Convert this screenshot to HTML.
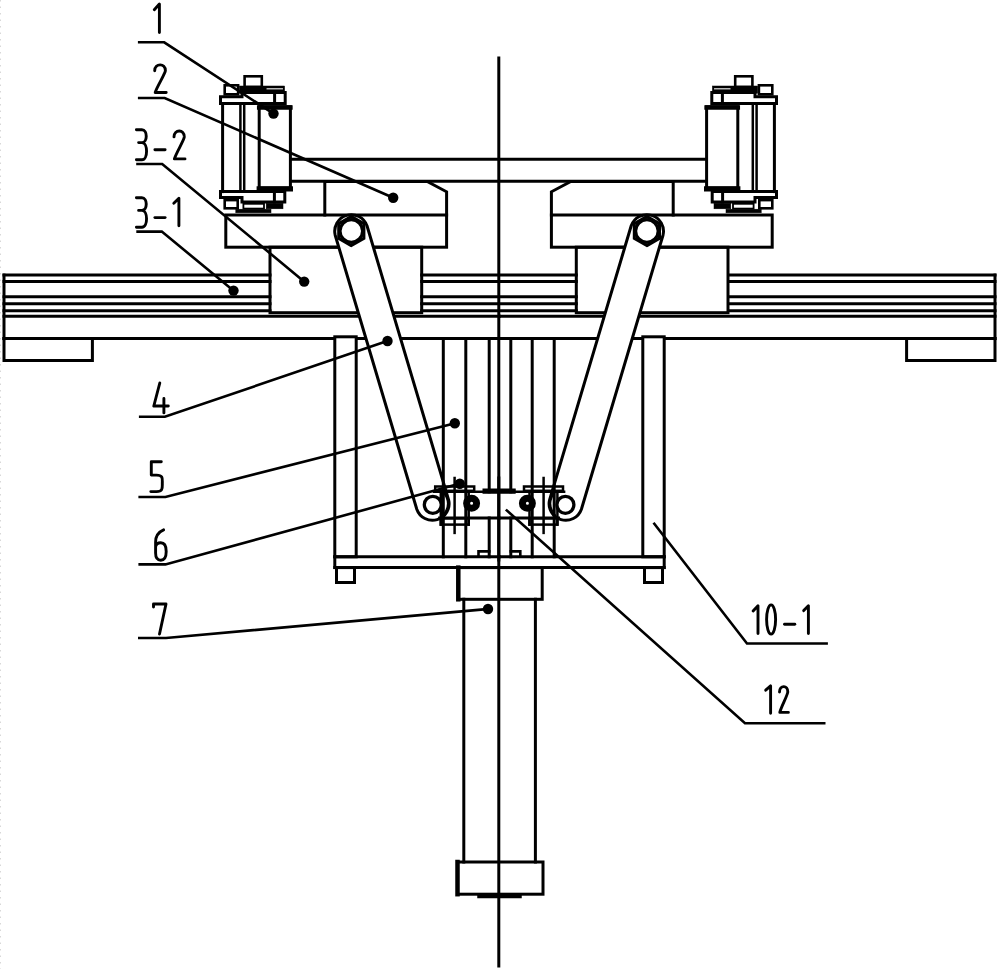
<!DOCTYPE html><html><head><meta charset="utf-8"><style>html,body{margin:0;padding:0;background:#fff;}svg{display:block;}</style></head><body><svg width="1000" height="969" viewBox="0 0 1000 969"><rect width="1000" height="969" fill="#fff"/><line x1="0.5" y1="0" x2="0.5" y2="969" stroke="#d8d8d8" stroke-width="1" stroke-dasharray="1.5,5"/><g stroke="#000" fill="none" stroke-linecap="square" stroke-linejoin="miter"><g><line x1="4.0" y1="316.2" x2="499.5" y2="316.2" stroke-width="3.0"/><line x1="4.0" y1="275.1" x2="270.0" y2="275.1" stroke-width="3.0"/><line x1="4.0" y1="281.6" x2="270.0" y2="281.6" stroke-width="3.0"/><line x1="4.0" y1="296.8" x2="270.0" y2="296.8" stroke-width="3.0"/><line x1="4.0" y1="303.7" x2="270.0" y2="303.7" stroke-width="3.0"/><line x1="4.0" y1="310.7" x2="270.0" y2="310.7" stroke-width="3.0"/><line x1="4.0" y1="338.6" x2="499.5" y2="338.6" stroke-width="3.0"/><line x1="4.0" y1="275.1" x2="4.0" y2="338.6" stroke-width="3.0"/><path d="M4.0,338.6 L4.0,360.6 L92.4,360.6 L92.4,338.6" stroke-width="3.0" fill="none"/><rect x="334.8" y="336.8" width="21.4" height="220.0" stroke-width="3.0" fill="#fff"/><line x1="334.8" y1="556.8" x2="499.5" y2="556.8" stroke-width="3.0"/><line x1="334.8" y1="567.6" x2="499.5" y2="567.6" stroke-width="3.0"/><line x1="334.8" y1="556.8" x2="334.8" y2="567.6" stroke-width="3.0"/><rect x="336.5" y="567.6" width="18.0" height="14.9" stroke-width="3.0" fill="none"/></g><g transform="translate(999.0,0) scale(-1,1)"><line x1="4.0" y1="316.2" x2="499.5" y2="316.2" stroke-width="3.0"/><line x1="4.0" y1="275.1" x2="270.0" y2="275.1" stroke-width="3.0"/><line x1="4.0" y1="281.6" x2="270.0" y2="281.6" stroke-width="3.0"/><line x1="4.0" y1="296.8" x2="270.0" y2="296.8" stroke-width="3.0"/><line x1="4.0" y1="303.7" x2="270.0" y2="303.7" stroke-width="3.0"/><line x1="4.0" y1="310.7" x2="270.0" y2="310.7" stroke-width="3.0"/><line x1="4.0" y1="338.6" x2="499.5" y2="338.6" stroke-width="3.0"/><line x1="4.0" y1="275.1" x2="4.0" y2="338.6" stroke-width="3.0"/><path d="M4.0,338.6 L4.0,360.6 L92.4,360.6 L92.4,338.6" stroke-width="3.0" fill="none"/><rect x="334.8" y="336.8" width="21.4" height="220.0" stroke-width="3.0" fill="#fff"/><line x1="334.8" y1="556.8" x2="499.5" y2="556.8" stroke-width="3.0"/><line x1="334.8" y1="567.6" x2="499.5" y2="567.6" stroke-width="3.0"/><line x1="334.8" y1="556.8" x2="334.8" y2="567.6" stroke-width="3.0"/><rect x="336.5" y="567.6" width="18.0" height="14.9" stroke-width="3.0" fill="none"/></g><g><rect x="225.8" y="215.0" width="220.8" height="32.2" stroke-width="3.0" fill="none"/><path d="M324.8,215.0 L324.8,181.5 L427.2,181.5 L446.6,191.8 L446.6,215.0" stroke-width="3.0" fill="none"/><rect x="270.0" y="247.2" width="151.7" height="65.5" stroke-width="3.0" fill="none"/></g><g transform="translate(998.0,0) scale(-1,1)"><rect x="225.8" y="215.0" width="220.8" height="32.2" stroke-width="3.0" fill="none"/><path d="M324.8,215.0 L324.8,181.5 L427.2,181.5 L446.6,191.8 L446.6,215.0" stroke-width="3.0" fill="none"/><rect x="270.0" y="247.2" width="151.7" height="65.5" stroke-width="3.0" fill="none"/></g><line x1="421.7" y1="275.1" x2="576.3" y2="275.1" stroke-width="3.0"/><line x1="421.7" y1="281.6" x2="576.3" y2="281.6" stroke-width="3.0"/><line x1="421.7" y1="296.8" x2="576.3" y2="296.8" stroke-width="3.0"/><line x1="421.7" y1="303.7" x2="576.3" y2="303.7" stroke-width="3.0"/><line x1="421.7" y1="310.7" x2="576.3" y2="310.7" stroke-width="3.0"/><line x1="291.6" y1="159.3" x2="705.6" y2="159.3" stroke-width="3.0"/><line x1="291.6" y1="181.3" x2="705.6" y2="181.3" stroke-width="3.0"/><g><rect x="239.4" y="86.0" width="45.2" height="7.2" stroke-width="0.5" fill="#000"/><path d="M220.5,96.8 L242.0,96.8 L242.0,92.5 L285.2,92.5 L285.2,103.6 L220.5,103.6 Z" stroke-width="3.0" fill="none"/><line x1="274.6" y1="92.5" x2="274.6" y2="103.6" stroke-width="3.0"/><rect x="224.7" y="85.3" width="13.4" height="9.0" stroke-width="2.6" fill="none"/><rect x="244.6" y="76.3" width="17.2" height="10.7" stroke-width="2.6" fill="none"/><rect x="266.5" y="88.2" width="16.5" height="1.2" stroke-width="0.1" fill="#fff"/><line x1="222.6" y1="103.6" x2="222.6" y2="191.6" stroke-width="3.0"/><line x1="240.4" y1="103.6" x2="240.4" y2="191.6" stroke-width="2.5"/><line x1="244.2" y1="103.6" x2="244.2" y2="191.6" stroke-width="2.5"/><rect x="259.2" y="106.7" width="31.2" height="81.3" stroke-width="3" fill="none"/><line x1="259.2" y1="188.8" x2="290.4" y2="188.8" stroke-width="5.2"/><line x1="259.2" y1="107.5" x2="290.4" y2="107.5" stroke-width="4.5"/><path d="M220.5,191.6 L284.8,191.6 L284.8,202.0 L242.0,202.0 L242.0,197.4 L220.5,197.4 Z" stroke-width="3.0" fill="none"/><line x1="274.4" y1="191.6" x2="274.4" y2="202.0" stroke-width="3.0"/><rect x="224.7" y="200.1" width="13.0" height="8.2" stroke-width="2.6" fill="none"/><rect x="243.4" y="203.8" width="20.6" height="4.8" stroke-width="1.8" fill="none"/><rect x="266.2" y="203.2" width="16.8" height="5.6" stroke-width="0.5" fill="#000"/><rect x="235.8" y="209.2" width="35.2" height="3.6" stroke-width="0.5" fill="#000"/></g><g transform="translate(997.0,0) scale(-1,1)"><rect x="239.4" y="86.0" width="45.2" height="7.2" stroke-width="0.5" fill="#000"/><path d="M220.5,96.8 L242.0,96.8 L242.0,92.5 L285.2,92.5 L285.2,103.6 L220.5,103.6 Z" stroke-width="3.0" fill="none"/><line x1="274.6" y1="92.5" x2="274.6" y2="103.6" stroke-width="3.0"/><rect x="224.7" y="85.3" width="13.4" height="9.0" stroke-width="2.6" fill="none"/><rect x="244.6" y="76.3" width="17.2" height="10.7" stroke-width="2.6" fill="none"/><rect x="266.5" y="88.2" width="16.5" height="1.2" stroke-width="0.1" fill="#fff"/><line x1="222.6" y1="103.6" x2="222.6" y2="191.6" stroke-width="3.0"/><line x1="240.4" y1="103.6" x2="240.4" y2="191.6" stroke-width="2.5"/><line x1="244.2" y1="103.6" x2="244.2" y2="191.6" stroke-width="2.5"/><rect x="259.2" y="106.7" width="31.2" height="81.3" stroke-width="3" fill="none"/><line x1="259.2" y1="188.8" x2="290.4" y2="188.8" stroke-width="5.2"/><line x1="259.2" y1="107.5" x2="290.4" y2="107.5" stroke-width="4.5"/><path d="M220.5,191.6 L284.8,191.6 L284.8,202.0 L242.0,202.0 L242.0,197.4 L220.5,197.4 Z" stroke-width="3.0" fill="none"/><line x1="274.4" y1="191.6" x2="274.4" y2="202.0" stroke-width="3.0"/><rect x="224.7" y="200.1" width="13.0" height="8.2" stroke-width="2.6" fill="none"/><rect x="243.4" y="203.8" width="20.6" height="4.8" stroke-width="1.8" fill="none"/><rect x="266.2" y="203.2" width="16.8" height="5.6" stroke-width="0.5" fill="#000"/><rect x="235.8" y="209.2" width="35.2" height="3.6" stroke-width="0.5" fill="#000"/></g><line x1="465.8" y1="338.7" x2="465.8" y2="556.8" stroke-width="3.0"/><line x1="532.2" y1="338.7" x2="532.2" y2="556.8" stroke-width="3.0"/><line x1="489.2" y1="338.7" x2="489.2" y2="491.8" stroke-width="3.0"/><line x1="489.2" y1="518.0" x2="489.2" y2="556.8" stroke-width="3.0"/><line x1="510.8" y1="338.7" x2="510.8" y2="491.8" stroke-width="3.0"/><line x1="510.8" y1="518.0" x2="510.8" y2="556.8" stroke-width="3.0"/><path d="M478.5,556.8 L478.5,551.4 L489.2,551.4" stroke-width="2.6" fill="none"/><path d="M520.3,556.8 L520.3,551.4 L510.8,551.4" stroke-width="2.6" fill="none"/><rect x="458.3" y="567.6" width="83.9" height="31.7" stroke-width="3.0" fill="none"/><line x1="458.3" y1="567.6" x2="458.3" y2="599.3" stroke-width="4.5"/><line x1="463.8" y1="599.3" x2="463.8" y2="862.0" stroke-width="3.0"/><line x1="535.4" y1="599.3" x2="535.4" y2="862.0" stroke-width="3.0"/><rect x="457.5" y="862.0" width="85.5" height="32.2" stroke-width="3.0" fill="none"/><line x1="457.5" y1="862.0" x2="457.5" y2="894.2" stroke-width="4.5"/><rect x="478.0" y="894.2" width="43.0" height="3.3" stroke-width="1.5" fill="#000"/><line x1="498.8" y1="57.9" x2="498.8" y2="966.0" stroke-width="3"/><g><path d="M335.2,235.2 L416.8,509.2 A16.6,16.6 0 0 0 448.6,499.8 L367.0,225.8 A16.6,16.6 0 0 0 335.2,235.2 Z" stroke-width="3.0" fill="#fff"/><path d="M351.3,245.6 L338.7,238.3 L338.7,223.7 L351.3,216.4 L363.9,223.7 L363.9,238.3 Z" stroke-width="3" fill="none"/><circle cx="351.3" cy="231.0" r="11.3" stroke-width="3.2" fill="#fff"/></g><g transform="translate(998.2,0) scale(-1,1)"><path d="M335.2,235.2 L416.8,509.2 A16.6,16.6 0 0 0 448.6,499.8 L367.0,225.8 A16.6,16.6 0 0 0 335.2,235.2 Z" stroke-width="3.0" fill="#fff"/><path d="M351.3,245.6 L338.7,238.3 L338.7,223.7 L351.3,216.4 L363.9,223.7 L363.9,238.3 Z" stroke-width="3" fill="none"/><circle cx="351.3" cy="231.0" r="11.3" stroke-width="3.2" fill="#fff"/></g><line x1="443.3" y1="338.7" x2="443.3" y2="556.8" stroke-width="3.0"/><line x1="554.2" y1="338.7" x2="554.2" y2="556.8" stroke-width="3.0"/><g><rect x="435.2" y="486.5" width="39.0" height="4.3" stroke-width="2.5" fill="none"/><line x1="434.1" y1="491.8" x2="499.1" y2="491.8" stroke-width="2.5"/><rect x="440.8" y="518.3" width="27.9" height="6.3" stroke-width="2.5" fill="none"/><line x1="440.8" y1="491.8" x2="440.8" y2="524.6" stroke-width="2.5"/><line x1="468.7" y1="491.8" x2="468.7" y2="524.6" stroke-width="2.5"/><line x1="454.6" y1="478.0" x2="454.6" y2="532.9" stroke-width="2.5"/><line x1="439.7" y1="518.0" x2="499.1" y2="518.0" stroke-width="3.0"/><rect x="483.0" y="489.0" width="16.1" height="4.2" stroke-width="1" fill="#000"/><path d="M443.9,492.4 Q452.5,503.5 443.9,514.8" stroke-width="2.5" fill="none"/><circle cx="432.8" cy="504.8" r="8.5" stroke-width="3.3" fill="#fff"/></g><g transform="translate(998.2,0) scale(-1,1)"><rect x="435.2" y="486.5" width="39.0" height="4.3" stroke-width="2.5" fill="none"/><line x1="434.1" y1="491.8" x2="499.1" y2="491.8" stroke-width="2.5"/><rect x="440.8" y="518.3" width="27.9" height="6.3" stroke-width="2.5" fill="none"/><line x1="440.8" y1="491.8" x2="440.8" y2="524.6" stroke-width="2.5"/><line x1="468.7" y1="491.8" x2="468.7" y2="524.6" stroke-width="2.5"/><line x1="454.6" y1="478.0" x2="454.6" y2="532.9" stroke-width="2.5"/><line x1="439.7" y1="518.0" x2="499.1" y2="518.0" stroke-width="3.0"/><rect x="483.0" y="489.0" width="16.1" height="4.2" stroke-width="1" fill="#000"/><path d="M443.9,492.4 Q452.5,503.5 443.9,514.8" stroke-width="2.5" fill="none"/><circle cx="432.8" cy="504.8" r="8.5" stroke-width="3.3" fill="#fff"/></g><circle cx="471.6" cy="503.3" r="5.0" stroke-width="7.0" fill="#fff"/><circle cx="527.4" cy="503.3" r="5.0" stroke-width="7.0" fill="#fff"/><line x1="498.8" y1="478.0" x2="498.8" y2="560.0" stroke-width="3"/><path d="M139.2,42.3 L164.2,42.3 L273.5,113.6" stroke-width="2.6" fill="none"/><circle cx="273.5" cy="113.6" r="5.2" fill="#000" stroke="none"/><path d="M139.2,98.0 L164.7,98.0 L393.2,197.7" stroke-width="2.6" fill="none"/><circle cx="393.2" cy="197.7" r="5.2" fill="#000" stroke="none"/><path d="M137.5,164.0 L162.2,164.0 L304.2,281.6" stroke-width="2.6" fill="none"/><circle cx="304.2" cy="281.6" r="5.2" fill="#000" stroke="none"/><path d="M137.6,231.6 L161.8,231.6 L233.5,290.6" stroke-width="2.6" fill="none"/><circle cx="233.5" cy="290.6" r="5.2" fill="#000" stroke="none"/><path d="M140.2,416.8 L164.9,416.8 L387.5,341.0" stroke-width="2.6" fill="none"/><circle cx="387.5" cy="341.0" r="5.2" fill="#000" stroke="none"/><path d="M139.7,497.0 L165.4,497.0 L454.8,423.3" stroke-width="2.6" fill="none"/><circle cx="454.8" cy="423.3" r="5.2" fill="#000" stroke="none"/><path d="M139.7,564.4 L165.4,564.4 L459.8,483.7" stroke-width="2.6" fill="none"/><circle cx="459.8" cy="483.7" r="5.2" fill="#000" stroke="none"/><path d="M139.3,638.0 L166.0,638.0 L488.0,609.0" stroke-width="2.6" fill="none"/><circle cx="488.0" cy="609.0" r="5.2" fill="#000" stroke="none"/><path d="M654.3,523.7 L747.0,643.5 L826.6,643.5" stroke-width="2.6" fill="none"/><path d="M506.8,510.5 L745.0,723.2 L824.2,723.2" stroke-width="2.6" fill="none"/><g stroke-width="2.9" stroke-linecap="round" stroke-linejoin="round"><path d="M154.3,9.7 L159.4,4.0 L159.4,32.6"/><path d="M154.7,70.7 C154.7,63.2 165.6,62.7 165.4,70.7 C165.1,74.1 156.8,86.8 155.2,92.5 L166.2,92.5"/><path d="M136.4,129.7 L141.9,129.7 C147.7,129.7 147.7,142.6 141.9,142.6 L138.6,142.6 M141.9,142.6 C148.1,142.6 148.1,159.8 141.9,159.8 L136.4,159.8"/><path d="M154.9,149.7 L165.1,149.7"/><path d="M174.0,136.9 C174.0,129.4 184.5,128.8 184.3,136.9 C184.0,140.4 176.0,153.1 174.4,158.9 L185.0,158.9"/><path d="M136.4,197.8 L141.9,197.8 C147.7,197.8 147.7,210.4 141.9,210.4 L138.6,210.4 M141.9,210.4 C148.1,210.4 148.1,227.2 141.9,227.2 L136.4,227.2"/><path d="M154.9,217.6 L165.1,217.6"/><path d="M173.8,203.2 L178.9,198.3 L178.9,225.8"/><path d="M159.8,383.0 L153.8,406.0 L168.3,406.0 M163.9,398.5 L163.9,412.9"/><path d="M161.3,461.7 L151.3,461.7 L151.3,475.1 L156.5,475.1 C163.5,475.1 162.3,479 162.3,483.5 C162.3,488 163,491.6 156.5,491.6 L150.8,491.6"/><path d="M163.6,529.8 C158.5,532 155.6,536 155.6,542 L155.6,553 C155.6,558 157.5,560.2 160.8,560.2 C164.5,560.2 166.2,557 166.2,551.5 C166.2,545 164,542.7 160.8,542.7 C157.5,542.7 155.8,544.5 155.6,547"/><path d="M153.5,607.0 L153.5,604.0 L166.0,604.0 L159.5,634.0"/><path d="M753.1,611.0 L758.0,605.8 L758.0,633.6"/><ellipse cx="771.1" cy="619.5" rx="4.5" ry="14.6"/><path d="M784.5,624.3 L794.8,624.3"/><path d="M803.7,610.6 L808.4,605.8 L808.4,633.6"/><path d="M765.7,690.2 L770.6,685.9 L770.6,713.2"/><path d="M779.5,692.0 C779.5,685.1 788.0,684.5 787.8,692.0 C787.6,695.2 781.1,707.0 779.8,712.4 L788.4,712.4"/></g></g></svg></body></html>
